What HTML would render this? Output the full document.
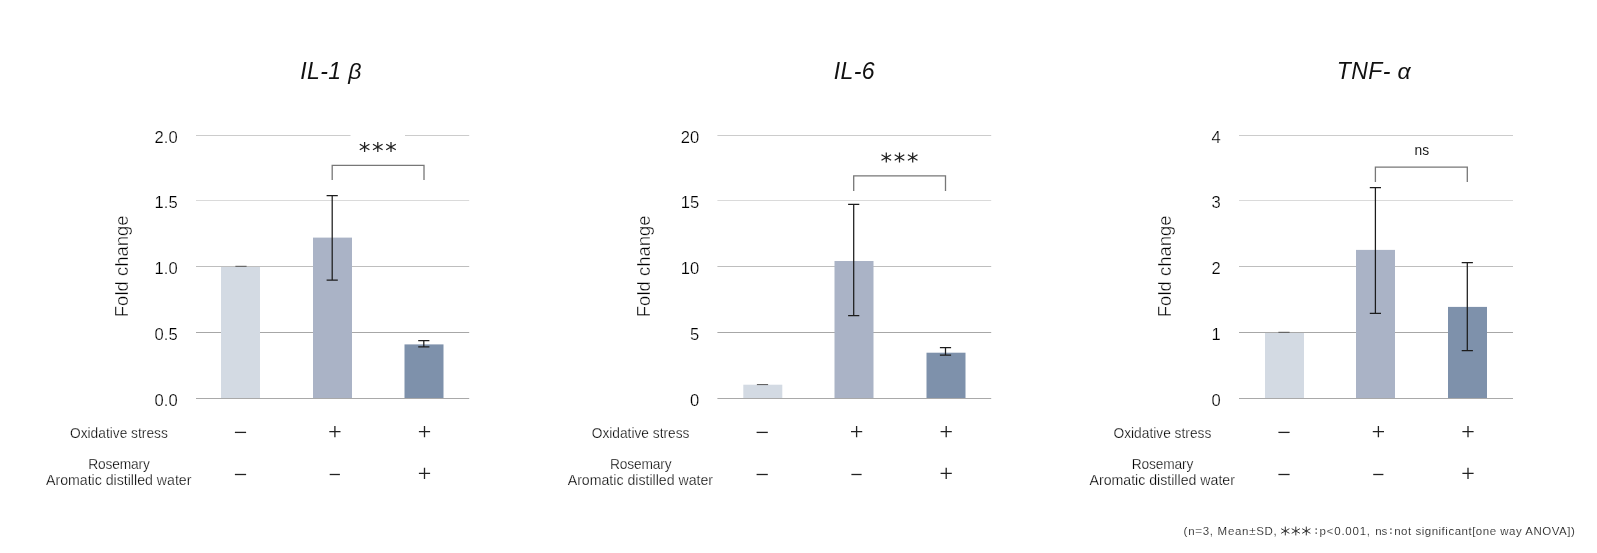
<!DOCTYPE html>
<html><head><meta charset="utf-8"><title>chart</title>
<style>
html,body{margin:0;padding:0;background:#fff;}
body{width:1597px;height:553px;overflow:hidden;font-family:"Liberation Sans",sans-serif;}
svg{will-change:transform;display:block;position:absolute;left:0;top:0;}
text{font-family:"Liberation Sans",sans-serif;fill:#2a2a2a;}
.title{font-size:23px;font-style:italic;fill:#111;letter-spacing:0.4px;}
.tick{font-size:16.6px;text-anchor:end;fill:#000;stroke:#fff;stroke-width:0.22px;}
.ylab{font-size:18.5px;fill:#000;stroke:#fff;stroke-width:0.35px;}
.lab{font-size:14px;text-anchor:middle;fill:#000;stroke:#fff;stroke-width:0.25px;}
.pm{stroke:#222;stroke-width:1.3;fill:none;}
.grid{stroke:#c9c9c9;stroke-width:1.3;}
.grid2{stroke:#a8a8a8;stroke-width:1.3;}
.err{stroke:#1c1c1c;stroke-width:1.25;fill:none;}
.err0{stroke:#555;stroke-width:1;fill:none;}
.br{stroke:#777;stroke-width:1.3;fill:none;}
.ast{stroke:#222;stroke-width:1.25;fill:none;}
.ns{font-size:13.8px;text-anchor:middle;fill:#1a1a1a;}
.note{font-size:11.5px;fill:#000;stroke:#fff;stroke-width:0.2px;}
.ast2{stroke:#333;stroke-width:1;fill:none;}
</style></head><body>
<svg width="1597" height="553" viewBox="0 0 1597 553">

<g transform="translate(0.0,0)">
<rect x="196" y="332" width="273.2" height="1" fill="#a7a7a7"/>
<rect x="196" y="266" width="273.2" height="1" fill="#bebebe"/>
<rect x="196" y="200" width="273.2" height="1" fill="#dadada"/>
<rect x="196" y="135" width="154.5" height="1" fill="#cccccc"/>
<rect x="405" y="135" width="64.2" height="1" fill="#cccccc"/>
<rect x="221" y="267" width="39" height="131.0" fill="#d3dae3"/>
<rect x="313" y="237.6" width="39" height="160.4" fill="#aab3c6"/>
<rect x="404.5" y="344.4" width="39" height="53.6" fill="#7e91ab"/>
<rect x="196" y="398" width="273.2" height="1" fill="#a9a9a9"/>
<path class="err0" d="M235.4 266.3H246.6"/>
<path class="err" d="M326.59999999999997 195.5H337.8M326.59999999999997 280.1H337.8M332.2 195.5V280.1"/>
<path class="err" d="M418.2 340.7H429.40000000000003M418.2 346.8H429.40000000000003M423.8 340.7V346.8"/>
<path class="br" d="M332.2 180.1V165.3H424V180.1"/>
<path class="ast" d="M364.6 142V152M359.8 144.2L369.4 149.8M359.8 149.8L369.4 144.2"/>
<path class="ast" d="M377.8 142V152M373.0 144.2L382.6 149.8M373.0 149.8L382.6 144.2"/>
<path class="ast" d="M391.0 142V152M386.2 144.2L395.8 149.8M386.2 149.8L395.8 144.2"/>
<text class="tick" x="177.7" y="406.2">0.0</text>
<text class="tick" x="177.7" y="340.2">0.5</text>
<text class="tick" x="177.7" y="274.2">1.0</text>
<text class="tick" x="177.7" y="208.2">1.5</text>
<text class="tick" x="177.7" y="143.2">2.0</text>
<text class="ylab" transform="translate(128.0,317.2) rotate(-90)">Fold change</text>
<g transform="translate(0,0)">
<text class="lab" style="font-size:13.75px" x="118.9" y="438.4">Oxidative stress</text>
<text class="lab" style="font-size:13.75px;letter-spacing:-0.15px" x="119.0" y="468.8">Rosemary</text>
<text class="lab" style="font-size:14.15px" x="118.7" y="485.0">Aromatic distilled water</text>
<path class="pm" d="M234.9 432.4H246.1"/>
<path class="pm" d="M329.29999999999995 431.7H340.5M334.9 426.09999999999997V437.3"/>
<path class="pm" d="M418.9 431.7H430.1M424.5 426.09999999999997V437.3"/>
<path class="pm" d="M234.9 474.5H246.1"/>
<path class="pm" d="M329.7 474.5H339.90000000000003"/>
<path class="pm" d="M418.9 473.4H430.1M424.5 467.79999999999995V479.0"/>
</g>
</g>
<text class="title" text-anchor="middle" x="331" y="78.6">IL-1 β</text>
<g transform="translate(521.5,0)">
<rect x="195.9" y="332" width="273.8" height="1" fill="#a7a7a7"/>
<rect x="195.9" y="266" width="273.8" height="1" fill="#bebebe"/>
<rect x="195.9" y="200" width="273.8" height="1" fill="#dadada"/>
<rect x="195.9" y="135" width="273.8" height="1" fill="#cccccc"/>
<rect x="221.8" y="384.7" width="39" height="13.3" fill="#d3dae3"/>
<rect x="313" y="261" width="39" height="137.0" fill="#aab3c6"/>
<rect x="405" y="352.7" width="39" height="45.3" fill="#7e91ab"/>
<rect x="195.9" y="398" width="273.8" height="1" fill="#a9a9a9"/>
<path class="err0" d="M235.4 384.6H246.6"/>
<path class="err" d="M326.59999999999997 204.4H337.8M326.59999999999997 315.5H337.8M332.2 204.4V315.5"/>
<path class="err" d="M418.4 347.5H429.6M418.4 355.1H429.6M424 347.5V355.1"/>
<path class="br" d="M332.2 190.9V175.8H424V190.9"/>
<path class="ast" d="M364.8 152.5V162.5M360.0 154.7L369.6 160.3M360.0 160.3L369.6 154.7"/>
<path class="ast" d="M378.0 152.5V162.5M373.2 154.7L382.8 160.3M373.2 160.3L382.8 154.7"/>
<path class="ast" d="M391.2 152.5V162.5M386.4 154.7L396.0 160.3M386.4 160.3L396.0 154.7"/>
<text class="tick" x="177.7" y="406.2">0</text>
<text class="tick" x="177.7" y="340.2">5</text>
<text class="tick" x="177.7" y="274.2">10</text>
<text class="tick" x="177.7" y="208.2">15</text>
<text class="tick" x="177.7" y="143.2">20</text>
<text class="ylab" transform="translate(128.0,317.2) rotate(-90)">Fold change</text>
<g transform="translate(0.2,0)">
<text class="lab" style="font-size:13.75px" x="118.9" y="438.4">Oxidative stress</text>
<text class="lab" style="font-size:13.75px;letter-spacing:-0.15px" x="119.0" y="468.8">Rosemary</text>
<text class="lab" style="font-size:14.15px" x="118.7" y="485.0">Aromatic distilled water</text>
<path class="pm" d="M234.9 432.4H246.1"/>
<path class="pm" d="M329.29999999999995 431.7H340.5M334.9 426.09999999999997V437.3"/>
<path class="pm" d="M418.9 431.7H430.1M424.5 426.09999999999997V437.3"/>
<path class="pm" d="M234.9 474.5H246.1"/>
<path class="pm" d="M329.7 474.5H339.90000000000003"/>
<path class="pm" d="M418.9 473.4H430.1M424.5 467.79999999999995V479.0"/>
</g>
</g>
<text class="title" text-anchor="middle" x="854.3" y="78.6">IL-6</text>
<g transform="translate(1043.0,0)">
<rect x="196" y="332" width="274.0" height="1" fill="#a7a7a7"/>
<rect x="196" y="266" width="274.0" height="1" fill="#bebebe"/>
<rect x="196" y="200" width="274.0" height="1" fill="#dadada"/>
<rect x="196" y="135" width="274.0" height="1" fill="#cccccc"/>
<rect x="222" y="333" width="39" height="65.0" fill="#d3dae3"/>
<rect x="313" y="249.9" width="39" height="148.1" fill="#aab3c6"/>
<rect x="405" y="306.9" width="39" height="91.1" fill="#7e91ab"/>
<rect x="196" y="398" width="274.0" height="1" fill="#a9a9a9"/>
<path class="err0" d="M235.4 332.3H246.6"/>
<path class="err" d="M326.79999999999995 187.5H338.0M326.79999999999995 313.3H338.0M332.4 187.5V313.3"/>
<path class="err" d="M418.7 262.5H429.90000000000003M418.7 350.5H429.90000000000003M424.3 262.5V350.5"/>
<path class="br" d="M332.4 182.0V167.2H424.3V182.0"/>
<text class="ns" x="378.8" y="154.6">ns</text>
<text class="tick" x="177.7" y="406.2">0</text>
<text class="tick" x="177.7" y="340.2">1</text>
<text class="tick" x="177.7" y="274.2">2</text>
<text class="tick" x="177.7" y="208.2">3</text>
<text class="tick" x="177.7" y="143.2">4</text>
<text class="ylab" transform="translate(128.0,317.2) rotate(-90)">Fold change</text>
<g transform="translate(0.5,0)">
<text class="lab" style="font-size:13.75px" x="118.9" y="438.4">Oxidative stress</text>
<text class="lab" style="font-size:13.75px;letter-spacing:-0.15px" x="119.0" y="468.8">Rosemary</text>
<text class="lab" style="font-size:14.15px" x="118.7" y="485.0">Aromatic distilled water</text>
<path class="pm" d="M234.9 432.4H246.1"/>
<path class="pm" d="M329.29999999999995 431.7H340.5M334.9 426.09999999999997V437.3"/>
<path class="pm" d="M418.9 431.7H430.1M424.5 426.09999999999997V437.3"/>
<path class="pm" d="M234.9 474.5H246.1"/>
<path class="pm" d="M329.7 474.5H339.90000000000003"/>
<path class="pm" d="M418.9 473.4H430.1M424.5 467.79999999999995V479.0"/>
</g>
</g>
<text class="title" text-anchor="middle" x="1374.0" y="78.6">TNF- α</text>
<text class="note" x="1183.6" y="535" textLength="93.2" lengthAdjust="spacing">(n=3, Mean±SD,</text>
<path class="ast2" d="M1285.3 526.6V535.4M1281.2 528.7L1289.4 533.3M1281.2 533.3L1289.4 528.7"/>
<path class="ast2" d="M1295.8 526.6V535.4M1291.7 528.7L1299.9 533.3M1291.7 533.3L1299.9 528.7"/>
<path class="ast2" d="M1306.3 526.6V535.4M1302.2 528.7L1310.4 533.3M1302.2 533.3L1310.4 528.7"/>
<rect x="1315.5" y="528.4" width="1.4" height="1.4" fill="#444"/><rect x="1315.5" y="532.4" width="1.4" height="1.4" fill="#444"/>
<rect x="1390.2" y="528.4" width="1.4" height="1.4" fill="#444"/><rect x="1390.2" y="532.4" width="1.4" height="1.4" fill="#444"/>
<text class="note" x="1319.6" y="535" textLength="50.4" lengthAdjust="spacing">p&lt;0.001,</text>
<text class="note" x="1375.2" y="535" textLength="12.0" lengthAdjust="spacing">ns</text>
<text class="note" x="1394.2" y="535" textLength="180.6" lengthAdjust="spacing">not significant[one way ANOVA])</text>
</svg></body></html>
